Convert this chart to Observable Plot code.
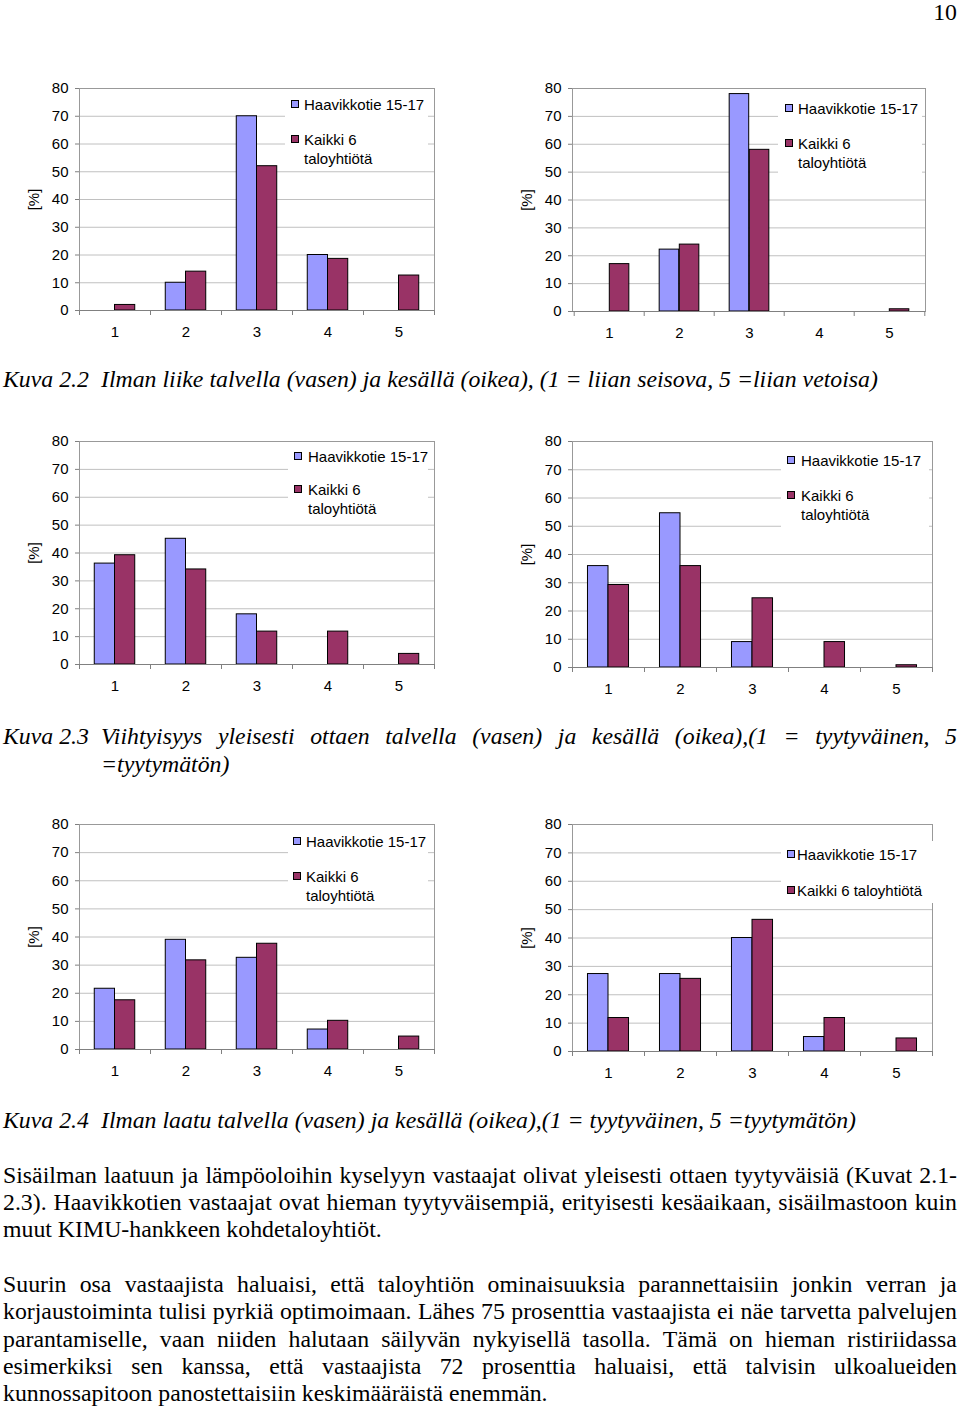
<!DOCTYPE html>
<html><head><meta charset="utf-8">
<script src="https://cdn.jsdelivr.net/npm/d3@7"></script>
<script src="https://cdn.jsdelivr.net/npm/@observablehq/plot@0.6"></script>
<style>
html,body{margin:0;padding:0;background:#fff;}
#page{position:relative;width:960px;height:1410px;overflow:hidden;font-family:"Liberation Serif","Times New Roman",serif;color:#000;}
.chart{position:absolute;}
.chart svg{overflow:visible;}
.legend{position:absolute;background:#fff;z-index:2;font-family:"Liberation Sans",Arial,sans-serif;font-size:15px;color:#000;}
.lg-text{position:absolute;white-space:nowrap;line-height:19px;}
.sw{position:absolute;width:8px;height:8px;box-sizing:border-box;border:1px solid #000;}
.txt{position:absolute;font-size:23.8px;line-height:27px;white-space:pre;}
.just{position:absolute;font-size:23.8px;line-height:27px;display:flex;justify-content:space-between;white-space:nowrap;}
.it{font-style:italic;}
</style>
</head><body><div id="page"></div>
<script>
// ---------- data ----------
const categories = ["1", "2", "3", "4", "5"];
const yTicks = [0, 10, 20, 30, 40, 50, 60, 70, 80];
const seriesNames = ["Haavikkotie 15-17", "Kaikki 6 taloyhtiötä"];
const seriesColors = ["#9999ff", "#993366"];

// Kuva 2.2 Ilman liike
const airMoveWinterHaavikko = [0, 10, 70, 20, 0];
const airMoveWinterAll      = [2, 14, 52, 18.6, 12.6];
const airMoveSummerHaavikko = [0, 22.2, 78, 0, 0];
const airMoveSummerAll      = [17, 24, 58, 0, 0.8];
// Kuva 2.3 Viihtyisyys
const comfortWinterHaavikko = [36.2, 45.1, 18, 0, 0];
const comfortWinterAll      = [39.2, 34.1, 11.8, 11.8, 3.8];
const comfortSummerHaavikko = [35.9, 54.6, 9, 0, 0];
const comfortSummerAll      = [29.2, 35.9, 24.5, 9, 0.8];
// Kuva 2.4 Ilman laatu
const airQualWinterHaavikko = [21.6, 39, 32.6, 7.1, 0];
const airQualWinterAll      = [17.5, 31.7, 37.6, 10.2, 4.6];
const airQualSummerHaavikko = [27.3, 27.3, 40, 5.1, 0];
const airQualSummerAll      = [11.8, 25.6, 46.4, 11.8, 4.6];

const pageNumber = "10";
const captions = {
  c22: ["Kuva 2.2", "Ilman liike talvella (vasen) ja kesällä (oikea), (1 = liian seisova, 5 =liian vetoisa)"],
  c23a: ["Kuva 2.3", "Viihtyisyys yleisesti ottaen talvella (vasen) ja kesällä (oikea),(1 = tyytyväinen, 5"],
  c23b: "=tyytymätön)",
  c24: ["Kuva 2.4", "Ilman laatu talvella (vasen) ja kesällä (oikea),(1 = tyytyväinen, 5 =tyytymätön)"]
};
const para1 = [
  "Sisäilman laatuun ja lämpöoloihin kyselyyn vastaajat olivat yleisesti ottaen tyytyväisiä (Kuvat 2.1-",
  "2.3). Haavikkotien vastaajat ovat hieman tyytyväisempiä, erityisesti kesäaikaan, sisäilmastoon kuin",
  "muut KIMU-hankkeen kohdetaloyhtiöt."
];
const para2 = [
  "Suurin osa vastaajista haluaisi, että taloyhtiön ominaisuuksia parannettaisiin jonkin verran ja",
  "korjaustoiminta tulisi pyrkiä optimoimaan. Lähes 75 prosenttia vastaajista ei näe tarvetta palvelujen",
  "parantamiselle, vaan niiden halutaan säilyvän nykyisellä tasolla. Tämä on hieman ristiriidassa",
  "esimerkiksi sen kanssa, että vastaajista 72 prosenttia haluaisi, että talvisin ulkoalueiden",
  "kunnossapitoon panostettaisiin keskimääräistä enemmän."
];

// ---------- layout ----------
const page = document.getElementById("page");

function el(tag, cls, style, text) {
  const e = document.createElement(tag);
  if (cls) e.className = cls;
  Object.assign(e.style, style || {});
  if (text != null) e.textContent = text;
  page.appendChild(e);
  return e;
}

function drawChart(cfg, hVals, kVals, lg) {
  const rows = vals => categories.map((c, i) => ({cat: c, value: vals[i]})).filter(d => d.value > 0);
  const bw = (cfg.width - cfg.ml - cfg.mr) / categories.length;
  const plot = Plot.plot({
    width: cfg.width, height: cfg.height,
    marginLeft: cfg.ml, marginRight: cfg.mr, marginTop: cfg.mt, marginBottom: cfg.mb,
    style: {fontFamily: '"Liberation Sans", Arial, sans-serif', fontSize: "15px", color: "#000", background: "transparent", overflow: "visible"},
    x: {type: "band", domain: categories, padding: 0, label: null},
    y: {domain: [0, 80]},
    marks: [
      Plot.ruleY(yTicks.slice(1), {stroke: "#c0c0c0"}),
      Plot.frame({stroke: "#999999"}),
      Plot.barY(rows(hVals), {x: "cat", y: "value", fill: seriesColors[0], stroke: "#000", strokeWidth: 1, insetLeft: bw * 0.215, insetRight: bw * 0.5}),
      Plot.barY(rows(kVals), {x: "cat", y: "value", fill: seriesColors[1], stroke: "#000", strokeWidth: 1, insetLeft: bw * 0.5, insetRight: bw * 0.215}),
      Plot.ruleY([0], {stroke: "#808080"}),
      Plot.axisY({ticks: yTicks, tickSize: 4, tickPadding: 7, stroke: "#808080", fill: "#000", label: "[%]", labelAnchor: "center", labelArrow: "none", labelOffset: 51}),
      Plot.axisX({tickSize: 0, tickPadding: 16, fill: "#000", label: null}),
      Plot.axisX({tickSize: 5, tickFormat: () => "", dx: -bw / 2, stroke: "#808080", label: null}),
      Plot.axisX({ticks: [categories[categories.length - 1]], tickSize: 5, tickFormat: () => "", dx: bw / 2, stroke: "#808080", label: null})
    ]
  });
  const box = el("div", "chart", {left: cfg.x + "px", top: cfg.y + "px"});
  box.appendChild(plot);

  // legend
  const L = el("div", "legend", {left: lg.x + "px", top: lg.y + "px", width: lg.w + "px", height: lg.h + "px"});
  const add = (i, cy, html) => {
    const s = document.createElement("div"); s.className = "sw";
    Object.assign(s.style, {left: (lg.sx - lg.x) + "px", top: (cy - 4 - lg.y) + "px", background: seriesColors[i]});
    L.appendChild(s);
    const t = document.createElement("div"); t.className = "lg-text";
    Object.assign(t.style, {left: (lg.tx - lg.x) + "px", top: (cy - 9.5 - lg.y) + "px"});
    t.innerHTML = html;
    L.appendChild(t);
  };
  add(0, lg.y1, seriesNames[0]);
  if (lg.wrap) {
    const parts = seriesNames[1].split(" ");
    add(1, lg.y2, parts.slice(0, 2).join(" ") + "<br>" + parts.slice(2).join(" "));
  } else add(1, lg.y2, seriesNames[1]);
}

drawChart({x: 0, y: 70, width: 480, height: 285, ml: 79, mr: 46, mt: 18, mb: 45}, airMoveWinterHaavikko, airMoveWinterAll,
  {x: 285, y: 92, w: 143, h: 77, sx: 291, tx: 304, y1: 104, y2: 139, wrap: true});
drawChart({x: 480, y: 70, width: 480, height: 285, ml: 92, mr: 35, mt: 18, mb: 44}, airMoveSummerHaavikko, airMoveSummerAll,
  {x: 778, y: 95, w: 144, h: 79, sx: 785, tx: 798, y1: 108, y2: 143, wrap: true});
drawChart({x: 0, y: 423, width: 480, height: 285, ml: 79, mr: 46, mt: 18, mb: 44}, comfortWinterHaavikko, comfortWinterAll,
  {x: 288, y: 444, w: 140, h: 79, sx: 294, tx: 308, y1: 456, y2: 489, wrap: true});
drawChart({x: 480, y: 423, width: 480, height: 285, ml: 92, mr: 28, mt: 18, mb: 41}, comfortSummerHaavikko, comfortSummerAll,
  {x: 781, y: 448, w: 148, h: 79, sx: 787, tx: 801, y1: 460, y2: 495, wrap: true});
drawChart({x: 0, y: 806, width: 480, height: 285, ml: 79, mr: 46, mt: 18, mb: 42}, airQualWinterHaavikko, airQualWinterAll,
  {x: 288, y: 829, w: 140, h: 79, sx: 293, tx: 306, y1: 841, y2: 876, wrap: true});
drawChart({x: 480, y: 806, width: 480, height: 285, ml: 92, mr: 28, mt: 18, mb: 40}, airQualSummerHaavikko, airQualSummerAll,
  {x: 781, y: 841, w: 152, h: 62, sx: 787, tx: 797, y1: 854, y2: 890, wrap: false});

// ---------- text ----------
const OFF = 14;
el("div", "txt", {right: "3px", top: "0px", lineHeight: "24px"}, pageNumber);

function plainLine(x, cy, text, italic) {
  return el("div", "txt" + (italic ? " it" : ""), {left: x + "px", top: (cy - OFF) + "px"}, text);
}
function justLine(x1, x2, cy, text, italic) {
  const d = el("div", "just" + (italic ? " it" : ""), {left: x1 + "px", top: (cy - OFF) + "px", width: (x2 - x1) + "px"});
  text.split(" ").forEach(w => { const s = document.createElement("span"); s.textContent = w; d.appendChild(s); });
  return d;
}

plainLine(3, 380, captions.c22[0], true);
plainLine(101, 380, captions.c22[1], true);
plainLine(3, 737, captions.c23a[0], true);
justLine(101, 957, 737, captions.c23a[1], true);
plainLine(101, 765, captions.c23b, true);
plainLine(3, 1121, captions.c24[0], true);
plainLine(101, 1121, captions.c24[1], true);

const p1y = [1176, 1203, 1230];
para1.forEach((t, i) => i < para1.length - 1 ? justLine(3, 957, p1y[i], t) : plainLine(3, p1y[i], t));
const p2y = [1285, 1312, 1340, 1367, 1394];
para2.forEach((t, i) => i < para2.length - 1 ? justLine(3, 957, p2y[i], t) : plainLine(3, p2y[i], t));
</script>
</body></html>
